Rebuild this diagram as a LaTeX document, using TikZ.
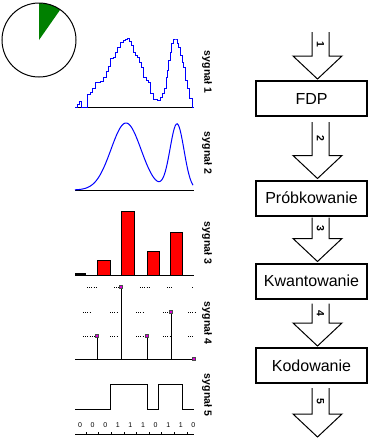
\documentclass[tikz,border=0pt]{standalone}
\usepackage{fontspec}
\setmainfont{Liberation Sans}
\usepackage{xcolor}
\usetikzlibrary{calc}
\definecolor{ciemnozielony}{RGB}{0,128,0}
\definecolor{fiolet}{RGB}{220,0,220}
\tikzstyle{blok}=[draw, line width=2pt, minimum width=111pt, minimum height=35pt, inner sep=0pt, font=\fontsize{16}{18}\selectfont]
\tikzstyle{strz}=[line width=1pt, line join=miter]
\tikzstyle{etyk}=[rotate=-90, font=\fontsize{10.5}{12}\selectfont\bfseries, inner sep=0pt]
\tikzstyle{nr}=[rotate=-90, font=\fontsize{10.5}{11}\selectfont\bfseries, inner sep=0pt]
\tikzstyle{bit}=[font=\fontsize{7}{8}\selectfont, inner sep=0pt]
\tikzstyle{kropka}=[draw=black!70, fill=fiolet, line width=0.4pt, rectangle, minimum size=3pt, inner sep=0pt]
\tikzstyle{siatka}=[line width=0.9pt, dash pattern=on 0.9pt off 1.3pt]
\tikzstyle{slupek}=[draw=black, fill=red, line width=1pt]
\newcommand{\strzalka}[3]{%
\draw[strz] let \p1=(#1), \p2=(#2) in
  (\x2-5.5pt,\y1) -- (\x2-5.5pt,\y2+23pt) -- (\x2-24.5pt,\y2+23pt) -- (\x2,\y2)
  -- (\x2+24.5pt,\y2+23pt) -- (\x2+11.5pt,\y2+23pt) -- (\x2+11.5pt,\y1)
  node[nr] at (\x2+3pt,{0.5*(\y1)+0.5*(\y2)+11.5pt}) {#3};}
\begin{document}
\begin{tikzpicture}[x=1pt,y=-1pt]
\useasboundingbox (0,0) rectangle (382,440);
% kolo
\coordinate (srodek) at (39,40);
\fill[ciemnozielony] (srodek) -- ++(-90:37) arc[start angle=-90, end angle=-55, radius=37] -- cycle;
\draw[line width=1pt] (srodek) circle[radius=37];
% sygnal 1
\draw[line width=1pt] (75,107) -- (194,107);
\draw[blue, line width=1pt] plot[const plot] coordinates {(75,107) (77,104) (79,101) (81,107) (87,94) (90,92) (92,88) (95,82) (100,81) (103,77) (106,71) (108,66) (110,58) (113,57) (115,52) (117,47) (120,42) (123,40) (125,39) (127,38) (129,41) (131,45) (133,52) (135,55) (137,57) (139,62) (141,67) (143,77) (146,80) (148,82) (150,93) (153,99) (157,100) (160,97) (162,93) (164,88) (166,77) (167,70) (168,60) (170,52) (171,43) (173,39) (176,39) (177,43) (178,47) (180,55) (182,62) (183,67) (185,80) (187,88) (189,98) (192,107) (194,107)};
\node[etyk] (s1) at (207,72) {sygnał 1};
% sygnal 2
\draw[line width=1pt] (75,190) -- (194,190);
\draw[blue, line width=1pt] plot[domain=75:193, samples=120] (\x,{190-67*exp(-0.5*((\x-126)/15)^2)-66*exp(-0.5*((\x-177)/7)^2)});
\node[etyk] (s2) at (207,153) {sygnał 2};
% sygnal 3
\fill (75,273) rectangle (86,275);
\draw[slupek] (97,260) rectangle (110,275);
\draw[slupek] (121,211) rectangle (134,275);
\draw[slupek] (147,251) rectangle (159,275);
\draw[slupek] (170,232) rectangle (182,275);
\draw[line width=1pt] (75,275) -- (194,275);
\node[etyk] (s3) at (207,243) {sygnał 3};
% sygnal 4
\foreach \a/\b in {87/96,114/121,140/149,167/173,192/194} \draw[siatka] (\a,287) -- (\b,287);
\foreach \a/\b in {83/90,110/117,136/143,163/171,188/195} \draw[siatka] (\a,312) -- (\b,312);
\foreach \a/\b in {83/96,110/117,136/147,163/170,188/194} \draw[siatka] (\a,336) -- (\b,336);
\draw[line width=1pt] (75,359) -- (194,359);
\foreach \x/\y [count=\i] in {97/336,121/287,147/336,171/312} {
  \draw[line width=1pt] (\x,359) -- (\x,\y);
  \node[kropka] (p\i) at (\x,\y) {};
}
\node[kropka] (p5) at (194,359) {};
\node[etyk] (s4) at (207,323) {sygnał 4};
% sygnal 5
\draw[line width=1pt] (75,409) -- (110,409) -- (110,384) -- (147,384) -- (147,409) -- (158,409) -- (158,384) -- (182,384) -- (182,409) -- (194,409);
\foreach \b [count=\i from 0] in {0,0,0,1,1,1,0,1,1,0}
  \node[bit] (b\i) at ({80+12.6*\i},425) {\b};
\draw[line width=1pt] (75,434) -- (194,434);
\foreach \i in {0,...,8} \draw[line width=1pt] ({86.3+12.6*\i},434) -- ++(0,-2.5);
\node[etyk] (s5) at (207,395) {sygnał 5};
% bloki
\node[blok] (fdp) at (311.5,98.5) {FDP};
\node[blok] (probk) at (311.5,198) {Próbkowanie};
\node[blok] (kwant) at (311.5,281) {Kwantowanie};
\node[blok] (kodow) at (311.5,365.5) {Kodowanie};
\coordinate (p1) at (317.5,32);
\coordinate (k1) at ($(fdp.north)+(6,-1)$);
\coordinate (p2) at ($(fdp.south)+(6,5)$);
\coordinate (k2) at ($(probk.north)+(6,-1)$);
\coordinate (p3) at ($(probk.south)+(6,1)$);
\coordinate (k3) at ($(kwant.north)+(6,-1)$);
\coordinate (p4) at ($(kwant.south)+(6,4)$);
\coordinate (k4) at ($(kodow.north)+(6,-1)$);
\coordinate (p5) at ($(kodow.south)+(6,4)$);
\coordinate (k5) at (317.5,437);
\strzalka{p1}{k1}{1}
\strzalka{p2}{k2}{2}
\strzalka{p3}{k3}{3}
\strzalka{p4}{k4}{4}
\strzalka{p5}{k5}{5}
\end{tikzpicture}
\end{document}
